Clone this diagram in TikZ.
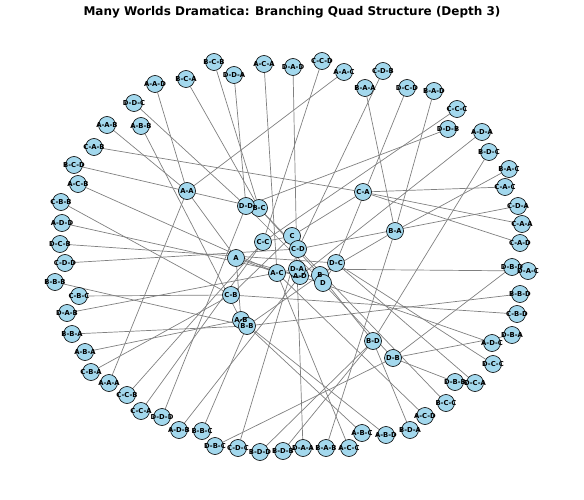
\documentclass[tikz,border=0pt]{standalone}
\usepackage{fontspec}
\setmainfont{DejaVu Sans}
\pgfdeclarelayer{background}
\pgfdeclarelayer{foreground}
\pgfsetlayers{background,main,foreground}
\definecolor{nodefill}{RGB}{163,216,237}
\definecolor{edgegray}{RGB}{128,128,128}
\tikzset{
  vtx/.style={circle,draw=black,line width=0.6pt,fill=nodefill,minimum size=17pt,inner sep=0pt},
  lbl/.style={font=\fontsize{6.8}{7}\selectfont\bfseries,text=black,inner sep=0pt},
  edge/.style={draw=edgegray,line width=0.7pt},
  ttl/.style={font=\fontsize{12}{14}\selectfont\bfseries,inner sep=0pt}
}
\begin{document}
\begin{tikzpicture}[x=1pt,y=-1pt]
\useasboundingbox (0,0) rectangle (584,500);
\node[ttl] (title) at (292,12) {Many Worlds Dramatica: Branching Quad Structure (Depth 3)};
\foreach \n/\t/\x/\y in {
 A/A/236/258, B/B/320/275, C/C/292/236, D/D/323/283,
 AA/A-A/187/191, AB/A-B/241/320, AC/A-C/277/273, AD/A-D/300/276,
 BA/B-A/395/231, BB/B-B/247/326, BC/B-C/259/208, BD/B-D/373/341,
 CA/C-A/363/192, CB/C-B/231/295, CC/C-C/263/242, CD/C-D/298/249,
 DA/D-A/297/269, DB/D-B/393/358, DC/D-C/336/263, DD/D-D/246/206,
 AAA/A-A-A/109/383, AAB/A-A-B/107/125, AAC/A-A-C/344/72, AAD/A-A-D/155/84,
 ABA/A-B-A/85/352, ABB/A-B-B/141/126, ABC/A-B-C/362/433, ABD/A-B-D/386/435,
 ACA/A-C-A/264/64, ACB/A-C-B/78/184, ACC/A-C-C/349/448, ACD/A-C-D/425/416,
 ADA/A-D-A/482/132, ADB/A-D-B/179/430, ADC/A-D-C/492/343, ADD/A-D-D/62/223,
 BAA/B-A-A/365/88, BAB/B-A-B/326/448, BAC/B-A-C/509/169, BAD/B-A-D/434/91,
 BBA/B-B-A/72/334, BBB/B-B-B/55/282, BBC/B-B-C/202/431, BBD/B-B-D/520/294,
 BCA/B-C-A/186/79, BCB/B-C-B/214/62, BCC/B-C-C/446/403, BCD/B-C-D/74/165,
 BDA/B-D-A/410/430, BDB/B-D-B/283/451, BDC/B-D-C/489/152, BDD/B-D-D/260/452,
 CAA/C-A-A/522/224, CAB/C-A-B/94/147, CAC/C-A-C/505/187, CAD/C-A-D/520/243,
 CBA/C-B-A/91/372, CBB/C-B-B/61/202, CBC/C-B-C/79/296, CBD/C-B-D/517/314,
 CCA/C-C-A/141/411, CCB/C-C-B/127/395, CCC/C-C-C/457/109, CCD/C-C-D/322/61,
 CDA/C-D-A/518/206, CDB/C-D-B/383/71, CDC/C-D-C/238/448, CDD/C-D-D/65/263,
 DAA/D-A-A/303/448, DAB/D-A-B/67/313, DAC/D-A-C/528/271, DAD/D-A-D/293/67,
 DBA/D-B-A/512/335, DBB/D-B-B/455/382, DBC/D-B-C/215/446, DBD/D-B-D/512/267,
 DCA/D-C-A/475/383, DCB/D-C-B/60/244, DCC/D-C-C/493/364, DCD/D-C-D/407/88,
 DDA/D-D-A/234/75, DDB/D-D-B/448/129, DDC/D-D-C/134/103, DDD/D-D-D/162/417}
{
  \node[vtx] (\n) at (\x,\y) {};
  \begin{pgfonlayer}{foreground}
    \node[lbl] at (\n.center) {\t};
  \end{pgfonlayer}
}
\begin{pgfonlayer}{background}
\foreach \p in {A,B,C,D}{
  \foreach \q in {A,B,C,D}{
    \draw[edge] (\p) -- (\p\q);
    \foreach \r in {A,B,C,D}{
      \draw[edge] (\p\q) -- (\p\q\r);
    }
  }
}
\end{pgfonlayer}
\end{tikzpicture}
\end{document}
